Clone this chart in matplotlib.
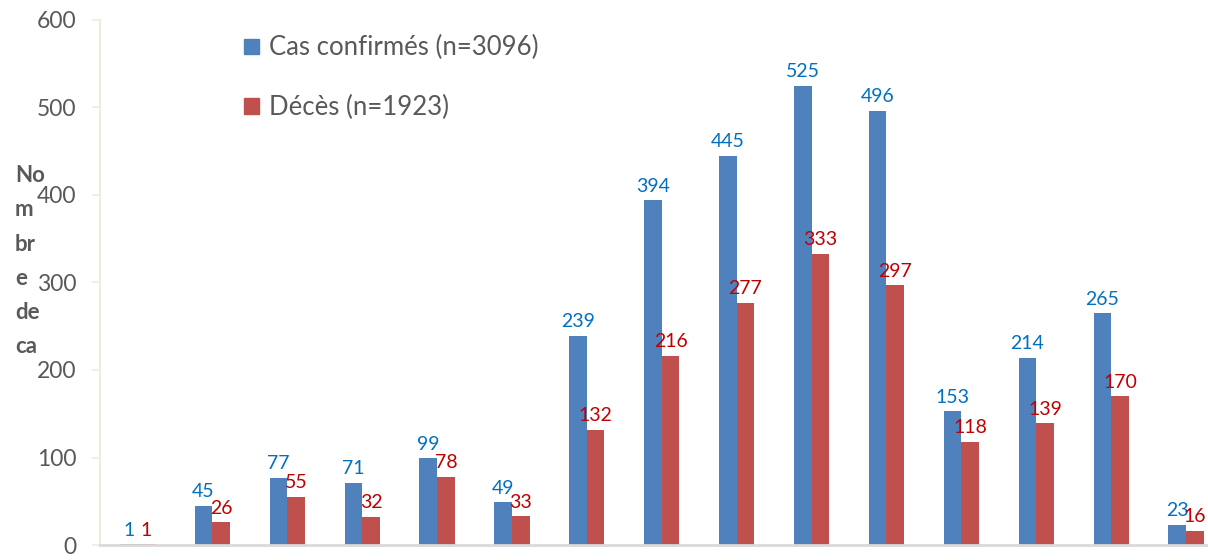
import numpy as np
import matplotlib
matplotlib.use("Agg")
import matplotlib.pyplot as plt
from matplotlib.patches import Patch

plt.rcParams['font.family'] = ['Lato', 'DejaVu Sans']

categories = list(range(1, 16))
confirmed = [1, 45, 77, 71, 99, 49, 239, 394, 445, 525, 496, 153, 214, 265, 23]
deaths = [1, 26, 55, 32, 78, 33, 132, 216, 277, 333, 297, 118, 139, 170, 16]
series_names = ["Cas confirmés (n=3096)", "Décès (n=1923)"]
y_ticks = [0, 100, 200, 300, 400, 500, 600]

blue, red = "#4F81BD", "#C0504D"
blue_lbl, red_lbl = "#0070C0", "#C00000"
grey = "#595959"

fig = plt.figure(figsize=(12.08, 5.6), dpi=100)
W, H = 1208, 560
ax = fig.add_axes([100 / W, 15 / H, 1123.5 / W, 525 / H])

x = np.arange(len(categories))
bw = 0.235
ax.bar(x - bw / 2, confirmed, width=bw, color=blue, zorder=2)
ax.bar(x + bw / 2, deaths, width=bw, color=red, zorder=2)

for xi, v in zip(x, confirmed):
    ax.annotate(str(v), (xi - bw / 2, v), xytext=(0, 4), textcoords="offset points",
                ha="center", va="bottom", color=blue_lbl, fontsize=14)
for xi, v in zip(x, deaths):
    ax.annotate(str(v), (xi + bw / 2, v), xytext=(0, 4), textcoords="offset points",
                ha="center", va="bottom", color=red_lbl, fontsize=14)

ax.set_xlim(-0.5, len(categories) - 0.5)
ax.set_ylim(0, 600)
ax.set_yticks(y_ticks)
ax.set_yticklabels([str(t) for t in y_ticks], fontsize=16.5, color=grey)
ax.tick_params(axis="y", length=6, width=1.2, color="#EEECE1", pad=11)
ax.set_xticks([])

for s in ["top", "right"]:
    ax.spines[s].set_visible(False)
ax.spines["left"].set_color("#EEECE1")
ax.spines["left"].set_linewidth(1.5)
ax.spines["bottom"].set_color("#D9D9D9")
ax.spines["bottom"].set_linewidth(2)

handles = [Patch(color=blue), Patch(color=red)]
ax.legend(handles, series_names, loc="upper left", bbox_to_anchor=(0.108, 1.015),
          frameon=False, fontsize=18.5, labelcolor=grey, handlelength=0.55,
          handleheight=0.55, handletextpad=0.4, labelspacing=1.35)

fig.text(15 / W, 1 - 165 / H, "No\nm\nbr\ne\nde\nca", ha="left", va="top",
         fontsize=16, fontweight="bold", color=grey, linespacing=1.78)

fig.savefig("out.png", dpi=100)
